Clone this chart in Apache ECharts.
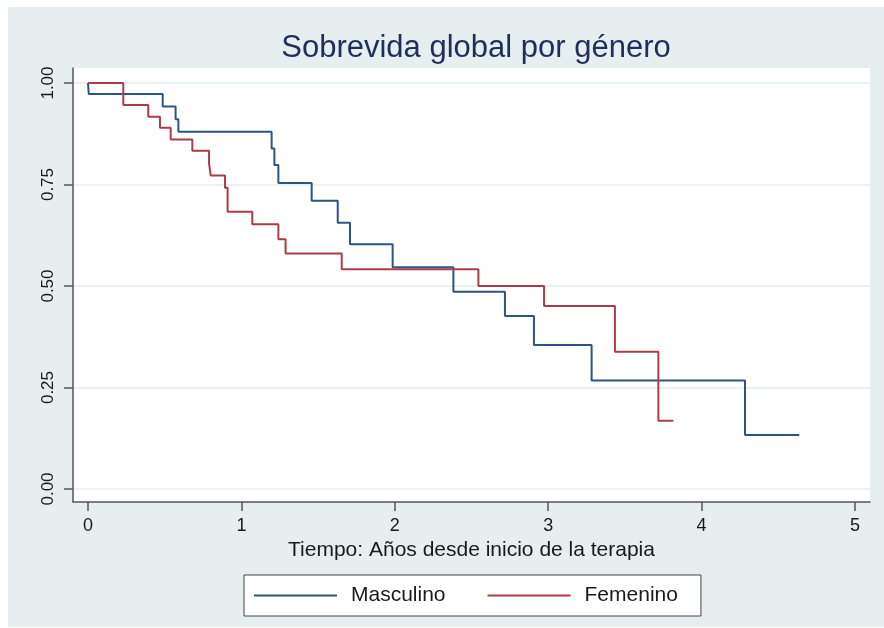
<!DOCTYPE html>
<html>
<head>
<meta charset="utf-8">
<script src="https://cdn.jsdelivr.net/npm/echarts@6/dist/echarts.min.js"></script>
<style>
html,body{margin:0;padding:0;background:#ffffff;}
#chart{width:884px;height:628px;}
</style>
</head>
<body>
<div id="chart"></div>
<script>
var chartTitle = 'Sobrevida global por género';
var xAxisTitle = 'Tiempo: Años desde inicio de la terapia';
var seriesNames = ['Masculino', 'Femenino'];
var xTicks = [0, 1, 2, 3, 4, 5];
var yTicks = [0, 0.25, 0.5, 0.75, 1];

var maleTime = [0, 0.005, 0.487, 0.571, 0.589, 1.197, 1.215, 1.241, 1.458, 1.628, 1.708, 1.986, 2.382, 2.718, 2.907, 3.283, 4.283, 4.637];
var maleSurv = [1.0, 0.973, 0.942, 0.911, 0.880, 0.839, 0.798, 0.754, 0.710, 0.656, 0.603, 0.546, 0.486, 0.426, 0.355, 0.267, 0.133, 0.133];

var femaleTime = [0, 0.230, 0.393, 0.469, 0.539, 0.680, 0.789, 0.800, 0.893, 0.910, 1.071, 1.241, 1.288, 1.654, 2.545, 2.973, 3.435, 3.718, 3.816];
var femaleSurv = [1.0, 0.946, 0.917, 0.890, 0.861, 0.833, 0.802, 0.772, 0.742, 0.683, 0.652, 0.615, 0.580, 0.541, 0.500, 0.451, 0.338, 0.168, 0.168];

function pairs(t, s) { return t.map(function (v, i) { return [v, s[i]]; }); }

var FONT = "'Liberation Sans', Arial, Helvetica, sans-serif";
var chart = echarts.init(document.getElementById('chart'), null, {renderer: 'canvas'});

chart.setOption({
  backgroundColor: '#ffffff',
  animation: false,
  graphic: [
    {type: 'rect', z: -10, silent: true, shape: {x: 8, y: 7, width: 876, height: 620}, style: {fill: '#e6eef0'}},
    {type: 'rect', z: -9, silent: true, shape: {x: 73, y: 68, width: 797, height: 434}, style: {fill: '#ffffff'}}
  ],
  title: {
    text: chartTitle,
    left: 471,
    textAlign: 'center',
    top: 28,
    textStyle: {fontFamily: FONT, fontSize: 31, fontWeight: 'normal', color: '#1e2f5c'}
  },
  legend: {
    data: seriesNames,
    left: 244,
    top: 575,
    orient: 'horizontal',
    padding: [10, 23, 10, 10],
    itemWidth: 83,
    itemHeight: 2,
    itemGap: 42,
    icon: 'rect',
    backgroundColor: '#ffffff',
    borderColor: '#444444',
    borderWidth: 1,
    textStyle: {fontFamily: FONT, fontSize: 21, color: '#1a1a1a', padding: [0, 0, 0, 9]}
  },
  grid: {left: 73, right: 14, top: 68, bottom: 126, containLabel: false},
  xAxis: {
    type: 'value',
    min: -0.0978,
    max: 5.0978,
    name: xAxisTitle,
    nameLocation: 'middle',
    nameGap: 36,
    nameTextStyle: {fontFamily: FONT, fontSize: 21, color: '#1a1a1a'},
    axisLine: {show: true, onZero: false, lineStyle: {color: '#555555', width: 1.5}},
    axisTick: {show: true, length: 9, customValues: xTicks, lineStyle: {color: '#555555', width: 1.5}},
    axisLabel: {customValues: xTicks, margin: 15, fontFamily: FONT, fontSize: 18, color: '#1a1a1a'},
    splitLine: {show: false}
  },
  yAxis: {
    type: 'value',
    min: -0.032,
    max: 1.037,
    axisLine: {show: true, onZero: false, lineStyle: {color: '#555555', width: 1.5}},
    axisTick: {show: true, length: 9, customValues: yTicks, lineStyle: {color: '#555555', width: 1.5}},
    axisLabel: {
      customValues: yTicks, rotate: 90, margin: 16, fontFamily: FONT, fontSize: 17, color: '#1a1a1a',
      formatter: function (v) { return v.toFixed(2); }
    },
    splitLine: {show: true, lineStyle: {color: '#e3ecef', width: 1.5}}
  },
  series: [
    {
      name: seriesNames[0], type: 'line', step: 'end', showSymbol: false,
      color: '#2a5683', lineStyle: {width: 2, color: '#2a5683'},
      data: pairs(maleTime, maleSurv)
    },
    {
      name: seriesNames[1], type: 'line', step: 'end', showSymbol: false,
      color: '#ab3d48', lineStyle: {width: 2, color: '#ab3d48'},
      data: pairs(femaleTime, femaleSurv)
    }
  ]
});
</script>
</body>
</html>
